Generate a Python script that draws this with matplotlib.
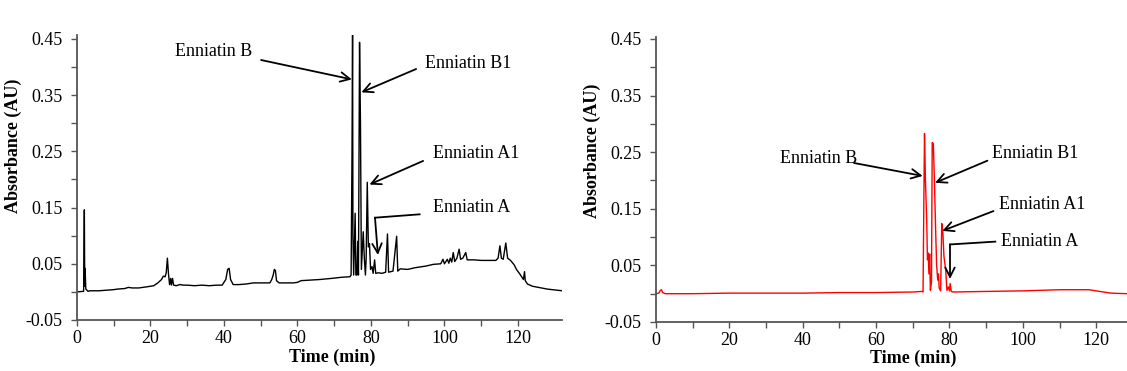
import matplotlib
matplotlib.use("Agg")
import matplotlib.pyplot as plt

# ---------------- data ----------------
time_a = [0.0, 1.8, 2.0, 2.1, 2.2, 2.4, 3.0, 3.5, 6.0, 8.1, 10.0, 11.0, 13.0, 14.0, 15.0,
          16.8, 19.0, 20.9, 22.0, 23.0, 23.5, 24.0, 24.3, 24.6, 24.9, 25.2, 25.5, 25.7,
          26.0, 26.3, 27.0, 28.0, 29.0, 30.0, 32.0, 34.0, 36.0, 38.0, 39.5, 40.5, 41.0,
          41.4, 41.8, 42.5, 44.0, 46.0, 48.0, 50.0, 52.5, 53.0, 53.4, 53.7, 54.0, 54.3,
          55.0, 58.9, 60.0, 61.0, 63.4, 66.0, 69.3, 72.0, 74.3, 74.6, 74.85, 75.0, 75.1,
          75.3, 75.7, 75.9, 76.2, 76.4, 76.6, 76.9, 77.15, 77.4, 77.9, 78.2, 78.5, 78.7,
          79.0, 79.3, 79.6, 79.9, 80.3, 80.6, 81.0, 81.3, 82.0, 83.0, 84.0, 84.5, 84.8,
          86.0, 87.0, 87.3, 88.0, 90.0, 92.0, 95.0, 97.0, 99.0, 99.6, 100.0, 100.8, 101.2,
          101.6, 102.0, 102.4, 102.8, 103.4, 104.0, 104.4, 105.0, 105.8, 106.2, 108.0,
          110.0, 112.0, 114.0, 114.6, 115.1, 115.5, 116.0, 116.7, 117.2, 118.0, 119.0,
          119.6, 120.5, 121.5, 121.8, 122.0, 122.6, 124.0, 125.6, 128.0, 130.6, 132.0]
abs_a = [0.000, 0.001, 0.146, 0.010, 0.042, 0.005, 0.001, 0.002, 0.002, 0.003, 0.004, 0.005,
         0.006, 0.008, 0.007, 0.007, 0.009, 0.011, 0.016, 0.022, 0.028, 0.027, 0.035, 0.060,
         0.032, 0.013, 0.024, 0.012, 0.024, 0.012, 0.011, 0.013, 0.012, 0.012, 0.011, 0.012,
         0.011, 0.012, 0.012, 0.022, 0.040, 0.042, 0.022, 0.013, 0.013, 0.014, 0.016, 0.016,
         0.016, 0.022, 0.030, 0.040, 0.038, 0.020, 0.016, 0.016, 0.017, 0.020, 0.021, 0.022,
         0.024, 0.026, 0.027, 0.030, 0.250, 0.470, 0.100, 0.030, 0.140, 0.030, 0.030, 0.090,
         0.030, 0.444, 0.300, 0.040, 0.107, 0.060, 0.030, 0.060, 0.195, 0.080, 0.086, 0.040,
         0.045, 0.033, 0.057, 0.033, 0.034, 0.033, 0.035, 0.103, 0.035, 0.037, 0.099, 0.037,
         0.041, 0.040, 0.043, 0.046, 0.049, 0.050, 0.058, 0.050, 0.058, 0.051, 0.060, 0.053,
         0.070, 0.054, 0.060, 0.076, 0.058, 0.060, 0.070, 0.057, 0.057, 0.056, 0.056, 0.056,
         0.060, 0.082, 0.060, 0.058, 0.087, 0.060, 0.056, 0.048, 0.040, 0.032, 0.022, 0.036,
         0.020, 0.014, 0.010, 0.008, 0.005, 0.003, 0.002]

time_b = [0.0, 0.8, 1.2, 1.5, 1.8, 2.5, 10.0, 20.0, 30.0, 40.0, 50.0, 60.0, 70.0, 72.5, 72.8,
          73.0, 73.2, 73.45, 73.8, 74.0, 74.2, 74.4, 74.6, 74.8, 75.1, 75.3, 75.6, 75.9,
          76.2, 76.5, 76.8, 77.0, 77.2, 77.6, 77.9, 78.2, 78.5, 79.0, 79.3, 79.7, 80.0,
          80.2, 80.5, 81.0, 90.0, 100.0, 105.0, 110.0, 115.0, 118.0, 120.0, 122.0, 124.0,
          128.4]
abs_b = [0.000, 0.001, 0.006, 0.007, 0.002, 0.000, 0.000, 0.001, 0.001, 0.001, 0.002, 0.002,
         0.003, 0.004, 0.003, 0.150, 0.283, 0.200, 0.130, 0.060, 0.072, 0.035, 0.070, 0.006,
         0.020, 0.267, 0.265, 0.200, 0.120, 0.050, 0.024, 0.035, 0.010, 0.005, 0.124, 0.108,
         0.066, 0.040, 0.006, 0.012, 0.005, 0.018, 0.004, 0.003, 0.004, 0.005, 0.006, 0.007,
         0.007, 0.007, 0.005, 0.003, 0.001, 0.000]

y_ticks = [-0.05, 0.0, 0.05, 0.10, 0.15, 0.20, 0.25, 0.30, 0.35, 0.40, 0.45]
y_ticklabels = ["-0.05", "", "0.05", "", "0.15", "", "0.25", "", "0.35", "", "0.45"]
x_ticks = [0, 10, 20, 30, 40, 50, 60, 70, 80, 90, 100, 110, 120]
x_ticklabels = ["0", "", "20", "", "40", "", "60", "", "80", "", "100", "", "120"]

labels = ["Enniatin B", "Enniatin B1", "Enniatin A1", "Enniatin A"]

# annotation geometry (data coords): text centre, arrow start, arrow tip
ann_a = [((37.15, 0.427), (50.1, 0.4125), (74.8, 0.378)),
         ((106.6, 0.407), (92.3, 0.3965), (77.4, 0.355)),
         ((108.7, 0.247), (94.2, 0.233), (79.6, 0.191))]
ann_a_A = ((107.4, 0.151), (93.25, 0.138), (81.1, 0.132), (81.9, 0.0656))
ann_b = [((44.4, 0.2386), (54.0, 0.2309), (72.7, 0.208)),
         ((103.4, 0.2485), (90.35, 0.235), (76.1, 0.196)),
         ((105.4, 0.1577), (92.0, 0.146), (78.05, 0.111))]
ann_b_A = ((104.7, 0.0925), (92.5, 0.092), (80.15, 0.087), (80.15, 0.026))

# ---------------- figure ----------------
plt.rcParams['font.family'] = ['Liberation Serif', 'DejaVu Serif']
fig = plt.figure(figsize=(11.27, 3.71), dpi=100)

ax1 = fig.add_axes([77/1127, 1-320/371, 485/1127, 285/371])
ax2 = fig.add_axes([656/1127, 1-322/371, 471/1127, 285/371])

ax1.plot(time_a, abs_a, color='black', lw=1.0)
ax2.plot(time_b, abs_b, color='#ff0000', lw=1.0)

ax1.set_xlim(0, 132)
ax1.set_ylim(-0.05, 0.457)
ax2.set_xlim(0, 128.4)
ax2.set_ylim(-0.05, 0.4535)

spine_col = '#555555'
for ax in (ax1, ax2):
    for s in ('top', 'right'):
        ax.spines[s].set_visible(False)
    for s in ('left', 'bottom'):
        ax.spines[s].set_color(spine_col)
        ax.spines[s].set_linewidth(1.3)
    ax.set_yticks(y_ticks)
    ax.set_yticklabels(y_ticklabels)
    ax.set_xticks(x_ticks)
    ax.set_xticklabels(x_ticklabels)
    ax.tick_params(axis='y', direction='out', length=4.5, width=1.0, color=spine_col,
                   labelsize=13, pad=6)
    ax.tick_params(axis='x', direction='out', length=4, width=1.0, color=spine_col,
                   labelsize=13, pad=3)
    ax.set_xlabel("Time (min)", fontsize=13, fontweight='bold')
    ax.set_ylabel("Absorbance (AU)", fontsize=13, fontweight='bold')

ax1.xaxis.set_label_coords(0.526, -0.10)
ax2.xaxis.set_label_coords(0.545, -0.098)
ax1.yaxis.set_label_coords(-0.113, 0.61)
ax2.yaxis.set_label_coords(-0.117, 0.60)

arrow_kw = dict(arrowstyle='->', lw=1.3, color='black', mutation_scale=17,
                shrinkA=0, shrinkB=0)

def annotate(ax, anns, annA):
    for lab, (tc, st, tip) in zip(labels[:3], anns):
        ax.text(tc[0], tc[1], lab, ha='center', va='center', fontsize=13)
        ax.annotate("", xy=tip, xytext=st, arrowprops=arrow_kw, annotation_clip=False)
    tc, st, corner, tip = annA
    ax.text(tc[0], tc[1], labels[3], ha='center', va='center', fontsize=13)
    ax.plot([st[0], corner[0]], [st[1], corner[1]], color='black', lw=1.3, clip_on=False)
    ax.annotate("", xy=tip, xytext=corner, arrowprops=arrow_kw, annotation_clip=False)

annotate(ax1, ann_a, ann_a_A)
annotate(ax2, ann_b, ann_b_A)

fig.savefig("out.png", dpi=100)
